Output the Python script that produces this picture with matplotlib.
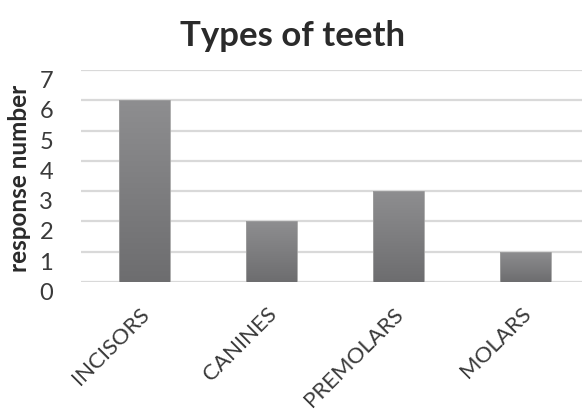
import numpy as np
import matplotlib
matplotlib.use("Agg")
import matplotlib.pyplot as plt
import matplotlib.transforms as mtransforms
from matplotlib.colors import LinearSegmentedColormap

plt.rcParams['font.family'] = ['Lato', 'DejaVu Sans']

# tooth types and number of responses
categories = ["INCISORS", "CANINES", "PREMOLARS", "MOLARS"]
responses = [6, 2, 3, 1]
yticks = [0, 1, 2, 3, 4, 5, 6, 7]

text_col = "#3a3a3a"
grid_col = "#d9d9d9"
bar_w = 0.4
shade = LinearSegmentedColormap.from_list("shade", ["#6d6d6f", "#8e8e90"])

fig = plt.figure(figsize=(5.82, 4.14), dpi=100)
ax = fig.add_axes([81 / 582, 131 / 414, 508 / 582, 212 / 414])

x = np.arange(len(categories))
bars = ax.bar(x, responses, width=bar_w, color="none", edgecolor="#a0a0a0",
              linewidth=0.6, zorder=3)

# vertical gradient inside each bar
grad = np.linspace(0, 1, 256).reshape(-1, 1)
for b in bars:
    x0, y0 = b.get_x(), b.get_y()
    w, h = b.get_width(), b.get_height()
    im = ax.imshow(grad, cmap=shade, origin="lower", aspect="auto",
                   extent=[x0, x0 + w, y0, y0 + h], zorder=2)
    im.set_clip_path(b)

ax.set_xlim(-0.5, len(categories) - 0.5)
ax.set_ylim(0, 7)
ax.set_yticks(yticks)
ax.set_yticklabels([str(v) for v in yticks], va="top")
ax.yaxis.grid(True, color=grid_col, linewidth=1.6, zorder=0)
ax.set_axisbelow(True)
for s in ax.spines.values():
    s.set_visible(False)

ax.tick_params(axis="y", length=0, pad=20, labelsize=17, labelcolor=text_col)
ax.tick_params(axis="x", length=0, pad=15, labelsize=16, labelcolor=text_col)
ax.set_xticks(x)
ax.set_xticklabels(categories, rotation=45, ha="right", rotation_mode="anchor")
shift = mtransforms.ScaledTranslation(-5 / 100, 0, fig.dpi_scale_trans)
for lab in ax.get_xticklabels():
    lab.set_transform(lab.get_transform() + shift)

fig.text(0.034, 0.568, "response number", rotation=90, ha="center", va="center",
         fontsize=17.5, fontweight="bold", color="#2a2a2a")
fig.text(0.502, 0.913, "Types of teeth", ha="center", va="center",
         fontsize=25, fontweight="bold", color="#2a2a2a")

fig.savefig("out.png", dpi=100)
